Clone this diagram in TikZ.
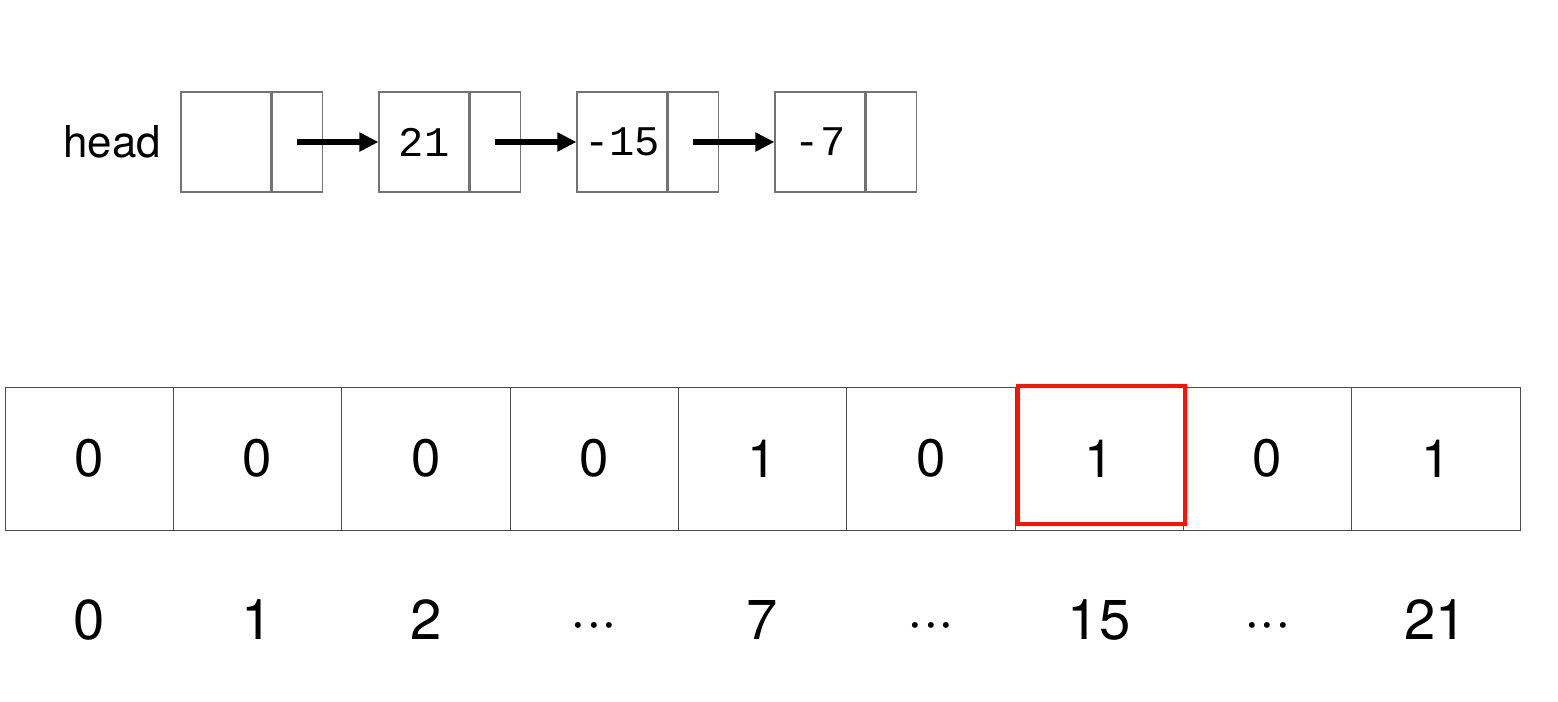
\documentclass[tikz,border=0pt]{standalone}
\usepackage{fontspec}
\setmainfont{TeX Gyre Heros}
\setmonofont{Liberation Mono}
\usepackage{tikz}
\usetikzlibrary{
  arrows.meta,
  positioning
}
\tikzset{
  datacell/.style={
    draw=black!55,
    line width=0.6pt,
    minimum width=1.8cm,
    minimum height=2cm,
    inner sep=0pt,
    font=\ttfamily\fontsize{24}{24}\selectfont,
  },
  ptrcell/.style={
    draw=black!55,
    line width=0.6pt,
    minimum width=1cm,
    minimum height=2cm,
    inner sep=0pt,
  },
  bitcell/.style={
    draw=black!70,
    line width=0.5pt,
    minimum width=3.3667cm,
    minimum height=2.86cm,
    inner sep=0pt,
    font=\fontsize{30}{30}\selectfont,
  },
  hitbox/.style={
    draw=red!85!orange,
    line width=2.5pt,
    minimum width=3.34cm,
    minimum height=2.76cm,
    inner sep=0pt,
  },
  idxlbl/.style={
    font=\fontsize{32}{32}\selectfont,
    inner sep=0pt,
    text height=0.7em,
    text depth=0pt,
  },
  arr/.style={
    -{Triangle[length=3.8mm, width=3.6mm]},
    line width=3pt,
  },
}

\begin{document}
\begin{tikzpicture}[x=0.02cm, y=-0.02cm]
  \useasboundingbox (0,0) rectangle (1558,701);

  % Row 1 — linked list
  \foreach \v [count=\i] in {{},21,-15,-7}{
    \node[datacell] (d\i) at ({226+198*(\i-1)},142) {\v};
    \node[ptrcell, right=0pt of d\i] (p\i) {};
  }
  \node[font=\fontsize{25}{25}\selectfont, inner sep=0pt, left=0.38cm of d1] (head) {head};

  \foreach \i/\j in {1/2,2/3,3/4}
    \draw[arr] (p\i.center) -- (d\j.west);

  % Row 2 — bit array
  \foreach \v [count=\i] in {0,0,0,0,1,0,1,0,1}
    \node[bitcell] (b\i) at ({5+168.33*(\i-0.5)},458.5) {\v};

  \node[hitbox] (hit) at (1101.5,455) {};

  % Row 3 — indices
  \coordinate (idxrow) at (0,633);
  \foreach \t [count=\i] in {0,1,2,···,7,···,15,···,21}
    \node[idxlbl] (idx\i) at (b\i |- idxrow) {\t};
\end{tikzpicture}
\end{document}
